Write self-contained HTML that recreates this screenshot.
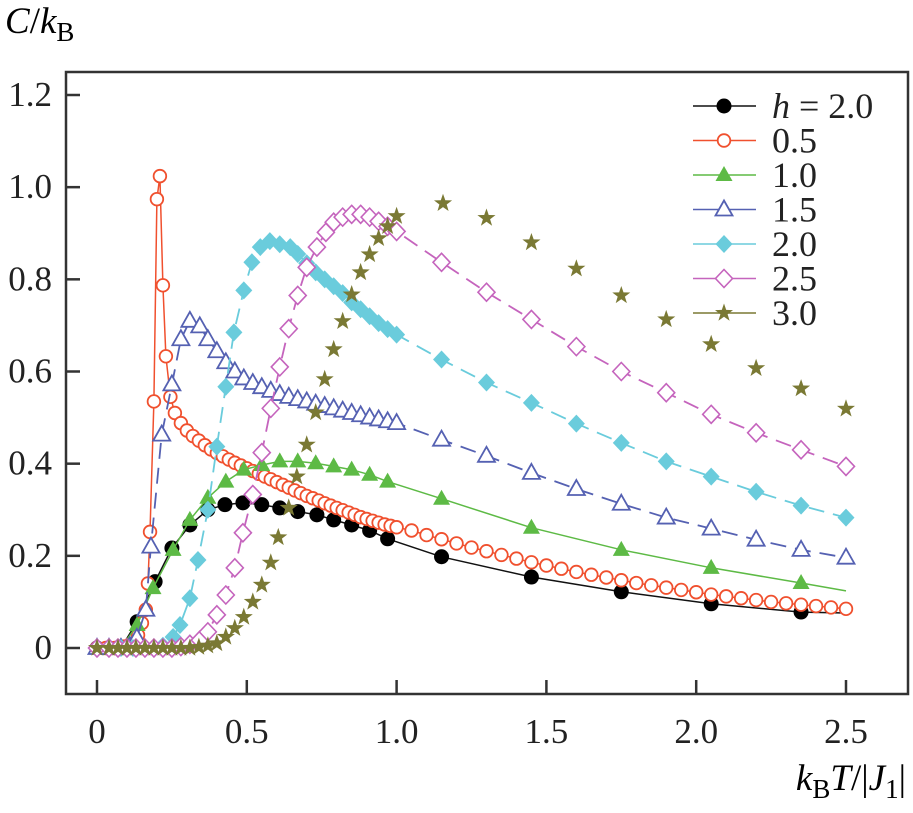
<!DOCTYPE html>
<html><head><meta charset="utf-8"><style>
html,body{margin:0;padding:0;background:#fff;}
svg{display:block;}
svg text, svg tspan{font-family:"Liberation Serif","Times New Roman",Times,serif;}
</style></head><body>
<svg id="chart" width="913" height="813" viewBox="0 0 913 813" xmlns="http://www.w3.org/2000/svg">
<rect x="66" y="72" width="842" height="622" fill="none" stroke="#333" stroke-width="2.5"/>
<g id="axes"></g>
<g id="series"></g>
<g id="legend"></g>
<text x="5" y="33" font-size="37" font-family="Liberation Serif, serif"><tspan font-style="italic">C</tspan>/<tspan font-style="italic">k</tspan><tspan font-size="27" dy="8">B</tspan></text>
<text x="906" y="790" font-size="37" text-anchor="end" font-family="Liberation Serif, serif"><tspan font-style="italic">k</tspan><tspan font-size="27" dy="8">B</tspan><tspan font-style="italic" dy="-8">T</tspan>/|<tspan font-style="italic">J</tspan><tspan font-size="27" dy="8">1</tspan><tspan dy="-8">|</tspan></text>
</svg>
<script>
const xTicks = [0, 0.5, 1.0, 1.5, 2.0, 2.5];
const xTickLabels = ["0", "0.5", "1.0", "1.5", "2.0", "2.5"];
const yTicks = [0, 0.2, 0.4, 0.6, 0.8, 1.0, 1.2];
const yTickLabels = ["0", "0.2", "0.4", "0.6", "0.8", "1.0", "1.2"];
const legendLabels = ["h = 2.0", "0.5", "1.0", "1.5", "2.0", "2.5", "3.0"];

const tBlack = [0,0.04,0.08,0.134,0.194,0.25,0.31,0.37,0.427,0.487,0.55,0.61,0.67,0.734,0.79,0.85,0.91,0.97,1.15,1.45,1.75,2.05,2.35,2.5];
const cBlack = [0,0,0,0.057,0.144,0.217,0.267,0.30,0.311,0.315,0.311,0.304,0.296,0.289,0.278,0.267,0.255,0.237,0.198,0.154,0.122,0.096,0.078,0.076];

const tRed = [0,0.03,0.06,0.09,0.11,0.137,0.15,0.163,0.17,0.177,0.19,0.20,0.21,0.22,0.23,0.245,0.26,0.28,0.30,0.32,0.34,0.36,0.38,0.40,0.42,0.44,0.46,0.48,0.50,0.52,0.54,0.56,0.58,0.60,0.62,0.64,0.66,0.68,0.70,0.72,0.74,0.76,0.78,0.80,0.82,0.84,0.86,0.88,0.90,0.92,0.94,0.96,0.98,1.00,1.05,1.10,1.15,1.20,1.25,1.30,1.35,1.40,1.45,1.50,1.55,1.60,1.65,1.70,1.75,1.80,1.85,1.90,1.95,2.00,2.05,2.10,2.15,2.20,2.25,2.30,2.35,2.40,2.45,2.50];
const cRed = [0,0,0,0.003,0.008,0.028,0.054,0.083,0.14,0.252,0.535,0.974,1.024,0.787,0.633,0.545,0.51,0.488,0.472,0.46,0.45,0.44,0.431,0.423,0.416,0.409,0.402,0.396,0.39,0.384,0.378,0.372,0.366,0.36,0.354,0.348,0.342,0.336,0.33,0.325,0.32,0.314,0.309,0.304,0.299,0.294,0.289,0.284,0.28,0.276,0.272,0.268,0.265,0.262,0.255,0.245,0.236,0.227,0.218,0.21,0.202,0.194,0.186,0.179,0.172,0.165,0.159,0.153,0.147,0.141,0.136,0.131,0.126,0.121,0.116,0.112,0.108,0.104,0.10,0.097,0.094,0.091,0.088,0.085];

const tGreen = [0,0.04,0.08,0.134,0.187,0.254,0.31,0.37,0.43,0.49,0.55,0.61,0.67,0.73,0.79,0.85,0.91,0.97,1.15,1.45,1.75,2.05,2.35,2.5];
const cGreen = [0,0,0,0.05,0.13,0.213,0.278,0.326,0.361,0.387,0.397,0.405,0.405,0.401,0.394,0.387,0.376,0.361,0.324,0.261,0.213,0.174,0.141,0.124];

const tBlue = [0,0.04,0.08,0.11,0.133,0.163,0.18,0.216,0.25,0.28,0.31,0.343,0.37,0.40,0.43,0.46,0.49,0.52,0.55,0.58,0.61,0.64,0.67,0.70,0.73,0.76,0.79,0.82,0.85,0.88,0.91,0.94,0.97,1.0,1.15,1.3,1.45,1.6,1.75,1.9,2.05,2.2,2.35,2.5];
const cBlue = [0,0,0,0.004,0.022,0.083,0.22,0.463,0.572,0.67,0.71,0.698,0.67,0.644,0.62,0.60,0.585,0.575,0.566,0.558,0.551,0.545,0.54,0.535,0.53,0.525,0.52,0.515,0.51,0.505,0.50,0.496,0.492,0.488,0.452,0.417,0.38,0.345,0.313,0.283,0.259,0.235,0.213,0.196];

const tCyan = [0,0.04,0.08,0.12,0.16,0.19,0.22,0.254,0.277,0.31,0.337,0.37,0.40,0.43,0.457,0.49,0.517,0.545,0.577,0.61,0.645,0.67,0.70,0.73,0.76,0.79,0.82,0.85,0.88,0.91,0.94,0.97,1.0,1.15,1.3,1.45,1.6,1.75,1.9,2.05,2.2,2.35,2.5];
const cCyan = [0,0,0,0,0,0,0.005,0.024,0.05,0.108,0.191,0.30,0.437,0.567,0.685,0.776,0.837,0.87,0.883,0.876,0.87,0.855,0.835,0.815,0.80,0.785,0.77,0.75,0.735,0.72,0.705,0.692,0.68,0.626,0.576,0.532,0.487,0.445,0.405,0.372,0.339,0.309,0.283];

const tPink = [0,0.04,0.07,0.10,0.13,0.16,0.19,0.22,0.25,0.28,0.31,0.343,0.37,0.40,0.43,0.46,0.487,0.52,0.55,0.58,0.61,0.64,0.67,0.70,0.734,0.764,0.79,0.82,0.85,0.88,0.91,0.94,0.97,1.0,1.15,1.3,1.45,1.6,1.75,1.9,2.05,2.2,2.35,2.5];
const cPink = [0,0,0,0,0,0,0,0,0,0.003,0.008,0.017,0.035,0.072,0.115,0.174,0.25,0.333,0.424,0.52,0.61,0.693,0.765,0.826,0.87,0.902,0.924,0.935,0.941,0.941,0.935,0.926,0.915,0.904,0.837,0.772,0.713,0.654,0.60,0.554,0.507,0.467,0.43,0.394];

const tOlive = [0,0.04,0.07,0.10,0.13,0.16,0.19,0.22,0.25,0.28,0.31,0.34,0.37,0.40,0.43,0.46,0.49,0.52,0.55,0.58,0.605,0.64,0.667,0.70,0.73,0.76,0.79,0.82,0.85,0.88,0.91,0.94,0.97,1.0,1.155,1.3,1.45,1.6,1.75,1.9,2.05,2.2,2.35,2.5];
const cOlive = [0,0,0,0,0,0,0,0,0,0,0,0.002,0.005,0.01,0.024,0.043,0.067,0.10,0.137,0.185,0.24,0.304,0.372,0.441,0.511,0.583,0.648,0.709,0.767,0.815,0.854,0.889,0.915,0.937,0.965,0.933,0.88,0.823,0.765,0.713,0.659,0.607,0.563,0.519];

const NS = "http://www.w3.org/2000/svg";
const X = t => 97 + t * (846 - 97) / 2.5;
const Y = c => 648 - c * (648 - 95) / 1.2;
function mk(tag, attrs, parent) {
  const e = document.createElementNS(NS, tag);
  for (const k in attrs) e.setAttribute(k, attrs[k]);
  parent.appendChild(e);
  return e;
}
const FONT = 'Liberation Serif, Times New Roman, serif';
const axes = document.getElementById('axes');
xTicks.forEach((v, i) => {
  const l = mk('line', {x1: X(v), x2: X(v), y1: 694, y2: 680, stroke: '#333', 'stroke-width': 2.5}, axes);
  
  
  const t = mk('text', {x: X(v), y: 743, 'font-size': 35, 'text-anchor': 'middle', fill: '#222', 'font-family': FONT}, axes);
  t.textContent = xTickLabels[i];
  
  
});
yTicks.forEach((v, i) => {
  const l = mk('line', {x1: 66, x2: 80, y1: Y(v), y2: Y(v), stroke: '#333', 'stroke-width': 2.5}, axes);
  
  
  const t = mk('text', {x: 52, y: Y(v) + 11, 'font-size': 35, 'text-anchor': 'end', fill: '#222', 'font-family': FONT}, axes);
  t.textContent = yTickLabels[i];
  
  
});

function marker(kind, color, cx, cy, parent) {
  let e;
  if (kind === 'dot') e = mk('circle', {cx, cy, r: 7.5, fill: '#000'}, parent);
  else if (kind === 'ocircle') e = mk('circle', {cx, cy, r: 6.3, fill: '#fff', stroke: color, 'stroke-width': 1.8}, parent);
  else if (kind === 'tri') e = mk('polygon', {points: `${cx},${cy-9} ${cx+8.5},${cy+6} ${cx-8.5},${cy+6}`, fill: color}, parent);
  else if (kind === 'otri') e = mk('polygon', {points: `${cx},${cy-9} ${cx+8.5},${cy+6} ${cx-8.5},${cy+6}`, fill: '#fff', stroke: color, 'stroke-width': 1.8}, parent);
  else if (kind === 'dia') e = mk('polygon', {points: `${cx},${cy-9} ${cx+8.5},${cy} ${cx},${cy+9} ${cx-8.5},${cy}`, fill: color}, parent);
  else if (kind === 'odia') e = mk('polygon', {points: `${cx},${cy-9} ${cx+8.5},${cy} ${cx},${cy+9} ${cx-8.5},${cy}`, fill: '#fff', stroke: color, 'stroke-width': 1.6}, parent);
  else {
    let p = [];
    for (let k = 0; k < 10; k++) {
      const r = k % 2 ? 3.8 : 9.5, a = -Math.PI / 2 + k * Math.PI / 5;
      p.push((cx + r * Math.cos(a)).toFixed(1) + ',' + (cy + r * Math.sin(a)).toFixed(1));
    }
    e = mk('polygon', {points: p.join(' '), fill: color}, parent);
  }
  return e;
}

const seriesDefs = [
  {name: 'h-2-0-black', t: tBlack, c: cBlack, color: '#111', kind: 'dot', dash: null, w: 1.5, skipLast: true},
  {name: 'h-0-5', t: tRed, c: cRed, color: '#f0502e', kind: 'ocircle', dash: null, w: 1.5},
  {name: 'h-1-0', t: tGreen, c: cGreen, color: '#5dba45', kind: 'tri', dash: null, w: 1.5, skipLast: true},
  {name: 'h-1-5', t: tBlue, c: cBlue, color: '#5561b2', kind: 'otri', dash: '16 9', w: 1.8},
  {name: 'h-2-0', t: tCyan, c: cCyan, color: '#6accdc', kind: 'dia', dash: '16 9', w: 1.8},
  {name: 'h-2-5', t: tPink, c: cPink, color: '#c564bd', kind: 'odia', dash: '16 9', w: 1.8},
  {name: 'h-3-0', t: tOlive, c: cOlive, color: '#7a7934', kind: 'star', dash: null, w: 0, noLine: true}
];
const sl = document.getElementById('series');
seriesDefs.forEach(s => {
  const g = mk('g', {}, sl);
  
  
  if (!s.noLine) {
    const pts = s.t.map((t, i) => X(t).toFixed(1) + ',' + Y(s.c[i]).toFixed(1)).join(' ');
    const pl = mk('polyline', {points: pts, fill: 'none', stroke: s.color, 'stroke-width': s.w}, g);
    if (s.dash) pl.setAttribute('stroke-dasharray', s.dash);
    
    
  }
  s.t.forEach((t, i) => {
    if (s.skipLast && i === s.t.length - 1) return;
    const m = marker(s.kind, s.color, X(t), Y(s.c[i]), g);
    
    
  });
});

const lg = document.getElementById('legend');
seriesDefs.forEach((s, i) => {
  const y = 106 + i * 34.5;
  const g = mk('g', {}, lg);
  
  
  mk('line', {x1: 693, x2: 756, y1: y, y2: y, stroke: s.color, 'stroke-width': 1.6}, g);
  marker(s.kind, s.color, 724, y, g);
  const t = mk('text', {x: 772, y: y + 12, 'font-size': 36, fill: '#222', 'font-family': FONT}, g);
  if (i === 0) {
    const a = mk('tspan', {'font-style': 'italic'}, t); a.textContent = 'h';
    const b = mk('tspan', {}, t); b.textContent = ' = 2.0';
  } else t.textContent = legendLabels[i];
});
</script>
</body></html>
